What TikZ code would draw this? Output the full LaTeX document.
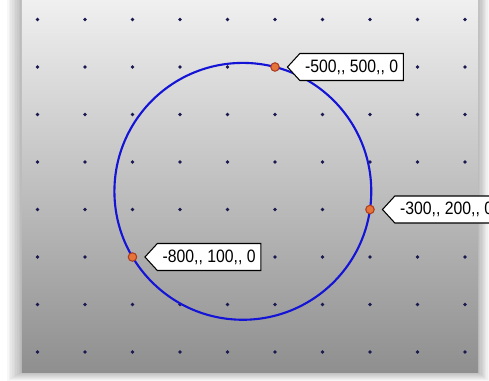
\documentclass[tikz,border=0pt]{standalone}
\usepackage{fontspec}
\setsansfont{Liberation Sans}
\newfontfamily\tagfont[FakeStretch=0.88]{Liberation Sans}
\usepackage{tikz}
\usetikzlibrary{shapes.symbols, positioning}
\usepackage{xcolor}
\definecolor{gridDot}{RGB}{25,25,80}
\definecolor{curveBlue}{RGB}{20,20,215}
\definecolor{pickFill}{RGB}{230,115,55}
\definecolor{pickDraw}{RGB}{170,60,35}
\tikzset{
    font=\sffamily,
    % Background
    panel/.style={top color=gray!10, bottom color=gray!88},
    shade/.style={fill=black, opacity=0.03},
    % Grid & curve
    gdot/.style={fill=gridDot},
    circ/.style={draw=curveBlue, line width=1.2pt},
    % Picked points
    pick/.style={circle, fill=pickFill, draw=pickDraw, semithick, inner sep=0pt, minimum size=0.17cm},
    % Tags
    tag/.style={signal, signal to=west, signal pointer angle=95, draw=black, fill=white,
                semithick, minimum height=0.54cm, inner xsep=3pt, inner ysep=1pt,
                font=\fontsize{10.2}{11}\tagfont}
}

\begin{document}
\begin{tikzpicture}[x=0.95cm, y=0.95cm]

\useasboundingbox (-10.789,-1.5895) rectangle (-0.4947,6.4105);
\clip (-10.789,-1.5895) rectangle (-0.4947,6.4105);

% panel with soft shadow
\fill[white] (-10.789,-1.5895) rectangle (-0.4947,6.4105);
\foreach \s in {1,...,9}
    \fill[shade] (-10.326-\s*0.035, -1.421-\s*0.022) rectangle (-0.726+\s*0.025, 6.6);
\fill[panel] (-10.326,-1.421) rectangle (-0.726,6.6);

% grid
\foreach \i in {-10,...,-1}
    \foreach \j in {-1,...,6}
        \fill[gdot] (\i,\j) circle[radius=0.038cm];

% circle through the three points
\coordinate (ctr) at (-5.6765,2.3824);
\draw[circ] (ctr) circle[radius=2.7036];

\node[pick] (pA) at (-5,5) {};
\node[pick] (pB) at (-3,2) {};
\node[pick] (pC) at (-8,1) {};

\node[tag, right=0.14cm of pA] (tA) {-500,, 500,, 0};
\node[tag, right=0.14cm of pB] (tB) {-300,, 200,, 0};
\node[tag, right=0.14cm of pC] (tC) {-800,, 100,, 0};

\end{tikzpicture}
\end{document}
